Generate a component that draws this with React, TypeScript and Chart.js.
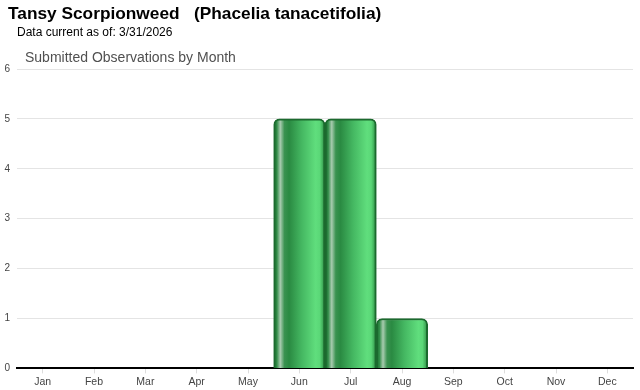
import React, { useEffect, useRef } from "react";
import { Chart, registerables } from "chart.js";

Chart.register(...registerables);

const months = ["Jan", "Feb", "Mar", "Apr", "May", "Jun", "Jul", "Aug", "Sep", "Oct", "Nov", "Dec"];
const observations = [0, 0, 0, 0, 0, 5, 5, 1, 0, 0, 0, 0];
const yTicks = [0, 1, 2, 3, 4, 5, 6];

const titleText = "Tansy Scorpionweed   (Phacelia tanacetifolia)";
const dateText = "Data current as of: 3/31/2026";
const chartTitle = "Submitted Observations by Month";

export default function App() {
  const canvasRef = useRef<HTMLCanvasElement | null>(null);

  useEffect(() => {
    const canvas = canvasRef.current;
    if (!canvas) return;
    const chart = new Chart(canvas, {
      type: "bar",
      data: {
        labels: months,
        datasets: [
          {
            data: observations,
            backgroundColor: (ctx: any) => {
              const ch = ctx.chart;
              const xs = ch.scales && ch.scales.x;
              if (!ch.chartArea || !xs) return "#3fae5a";
              const c = xs.getPixelForValue(ctx.dataIndex);
              const w = xs.width / months.length;
              const left = c - w / 2;
              const g = ch.ctx.createLinearGradient(left, 0, left + w, 0);
              g.addColorStop(0, "#1b6a2e");
              g.addColorStop(0.06, "#2f8a45");
              g.addColorStop(0.13, "#a8cbaf");
              g.addColorStop(0.21, "#3a9250");
              g.addColorStop(0.3, "#2a8a42");
              g.addColorStop(0.55, "#45b862");
              g.addColorStop(0.82, "#60de7d");
              g.addColorStop(0.9, "#5ad777");
              g.addColorStop(0.96, "#3ea957");
              g.addColorStop(1, "#1f7a35");
              return g;
            },
            borderColor: "#1b6a2e",
            borderWidth: 2,
            borderRadius: { topLeft: 6, topRight: 6, bottomLeft: 0, bottomRight: 0 },
            borderSkipped: "bottom",
            barPercentage: 1,
            categoryPercentage: 1,
          },
        ],
      },
      options: {
        animation: false,
        responsive: false,
        maintainAspectRatio: false,
        layout: { padding: { top: 69, left: 0, right: 7, bottom: 0 } },
        plugins: {
          legend: { display: false },
          tooltip: { enabled: false },
          title: { display: false },
        },
        scales: {
          x: {
            grid: {
              display: true,
              drawOnChartArea: false,
              offset: false,
              drawTicks: true,
              tickLength: 5,
              color: "#dddddd",
            },
            border: { display: true, color: "#000000", width: 2 },
            ticks: {
              color: "#444444",
              font: { family: "Arial, 'Liberation Sans', sans-serif", size: 10.5 },
              padding: 2,
            },
          },
          y: {
            min: 0,
            max: 6,
            afterBuildTicks: (scale: any) => {
              scale.ticks = yTicks.map((v) => ({ value: v }));
            },
            afterFit: (scale: any) => {
              scale.width = 17;
            },
            grid: { color: "#e4e4e4", drawTicks: false },
            border: { display: false },
            ticks: {
              color: "#444444",
              font: { family: "Arial, 'Liberation Sans', sans-serif", size: 10 },
              padding: 7,
            },
          },
        },
      },
    });
    return () => chart.destroy();
  }, []);

  return (
    <div style={{ position: "fixed", left: 0, top: 0, width: 640, height: 390, background: "#fff", fontFamily: "Arial, 'Liberation Sans', sans-serif" }}>
      <canvas ref={canvasRef} width={640} height={390} style={{ position: "absolute", left: 0, top: 0 }} />
      <div style={{ position: "absolute", left: 8, top: 3, fontSize: 17.3, fontWeight: "bold", color: "#000", whiteSpace: "pre", lineHeight: "21px" }}>{titleText}</div>
      <div style={{ position: "absolute", left: 17, top: 25, fontSize: 12, color: "#000", whiteSpace: "pre", lineHeight: "15px" }}>{dateText}</div>
      <div style={{ position: "absolute", left: 25, top: 48, fontSize: 14, color: "#505050", whiteSpace: "pre", lineHeight: "18px" }}>{chartTitle}</div>
    </div>
  );
}
